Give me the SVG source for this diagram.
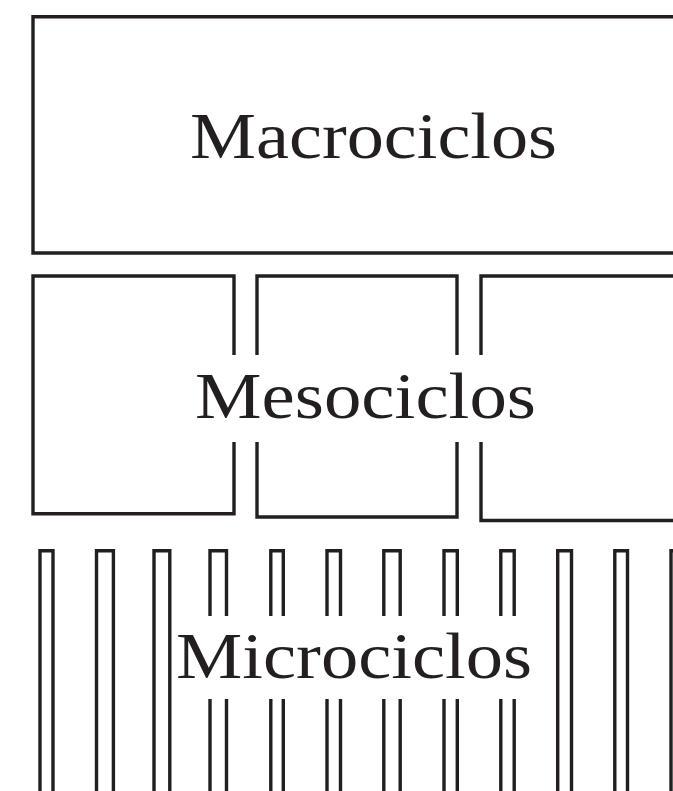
<svg xmlns="http://www.w3.org/2000/svg" width="673" height="791" viewBox="0 0 673 791">
  <style>
    .frame { fill: none; stroke: #231f20; stroke-width: 3.4; stroke-linejoin: miter; stroke-linecap: butt; }
    .label { font-family: "Liberation Serif", "Times New Roman", serif; font-size: 65px; fill: #231f20; }
  </style>
  <rect width="673" height="791" fill="#ffffff"/>

  <!-- Top level: one wide block -->
  <g id="macrociclos">
    <path class="frame" d="M680,16.8 H33 V253 H680"/>
    <text class="label" x="190" y="157.7" textLength="367" lengthAdjust="spacingAndGlyphs">Macrociclos</text>
  </g>

  <!-- Middle level: three blocks, inner sides broken around the label -->
  <g id="mesociclos">
    <path class="frame" d="M234,355 V276 H33 V513.7 H234 V442"/>
    <path class="frame" d="M257,355 V276 H457 V355 M457,442 V517 H257 V442"/>
    <path class="frame" d="M481,355 V276 H680 M680,520.5 H481 V442"/>
    <text class="label" x="195" y="417.7" textLength="341" lengthAdjust="spacingAndGlyphs">Mesociclos</text>
  </g>

  <!-- Bottom level: narrow open-ended bars -->
  <g id="microciclos">
    <path class="frame" d="M40,795 V550.7 H53 V795"/>
    <path class="frame" d="M96.5,795 V550.7 H113.4 V795"/>
    <path class="frame" d="M154,795 V550.7 H169.8 V795"/>
    <path class="frame" d="M210,616 V550.7 H226.5 V616 M210,699 V795 M226.5,699 V795"/>
    <path class="frame" d="M270.8,616 V550.7 H283.3 V616 M270.8,699 V795 M283.3,699 V795"/>
    <path class="frame" d="M327,616 V550.7 H340.5 V616 M327,699 V795 M340.5,699 V795"/>
    <path class="frame" d="M383.8,616 V550.7 H400.2 V616 M383.8,699 V795 M400.2,699 V795"/>
    <path class="frame" d="M444,616 V550.7 H457.3 V616 M444,699 V795 M457.3,699 V795"/>
    <path class="frame" d="M500.8,616 V550.7 H514.2 V616 M500.8,699 V795 M514.2,699 V795"/>
    <path class="frame" d="M557.7,795 V550.7 H571.5 V795"/>
    <path class="frame" d="M614.8,795 V550.7 H627.5 V795"/>
    <path class="frame" d="M671,795 V550.7 H690"/>
    <text class="label" x="176" y="677.7" textLength="356" lengthAdjust="spacingAndGlyphs">Microciclos</text>
  </g>

  <g id="connectors"/>
</svg>
